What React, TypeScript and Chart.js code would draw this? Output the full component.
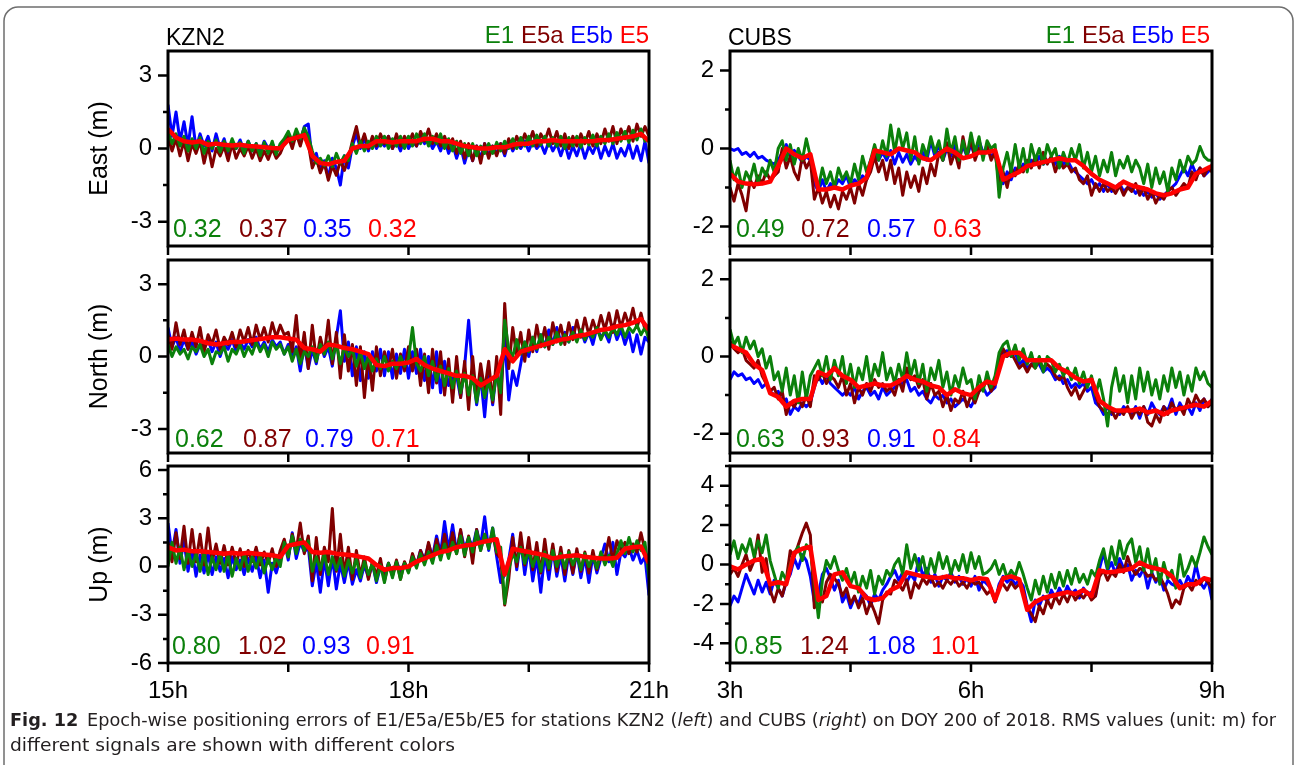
import React, { useEffect, useRef } from 'react';
import { Chart, registerables } from 'chart.js';

Chart.register(...registerables);

const FONT = "'Liberation Sans', Arial, Helvetica, sans-serif";
const NARROW = "'Liberation Sans Narrow', 'DejaVu Sans Condensed', 'Liberation Sans', sans-serif";
const GREEN = '#0b800b';
const DARKRED = '#800000';
const BLUE = '#0000ff';
const RED = '#ff0000';

// ---------- time axes (hours) ----------
const kznHours = [15, 18, 21];
const kznMinorHours = [16.5, 19.5];
const cubsHours = [3, 6, 9];
const cubsMinorHours = [4.5, 7.5];

// ---------- KZN2 East (noisy series: 121 epochs, E5: 61 epochs) ----------
const kznEastE1 = [
  0.7,0.2,0.6,0.1,0.5,-0.1,0.4,0.0,0.45,-0.2,0.3,0.0,0.35,-0.15,0.3,-0.1,0.4,0.0,0.25,-0.2,
  0.3,-0.1,0.2,-0.3,0.25,-0.2,0.3,-0.25,0.2,0.4,0.7,0.3,0.8,0.4,0.85,0.5,-0.1,-0.6,-0.4,-0.7,
  -0.3,-0.75,-0.2,-0.6,-0.3,-0.5,0.2,-0.2,0.3,-0.1,0.3,0.0,0.5,0.1,0.5,0.0,0.4,0.1,0.5,0.0,
  0.5,0.1,0.6,0.2,0.6,0.1,0.5,0.2,0.6,0.0,0.4,-0.1,0.3,-0.2,0.2,-0.3,0.2,-0.3,0.1,-0.2,
  0.2,-0.2,0.25,-0.1,0.3,0.0,0.4,0.0,0.45,0.1,0.5,0.1,0.55,0.15,0.5,0.1,0.45,0.1,0.5,0.0,
  0.45,0.1,0.5,0.05,0.45,0.15,0.55,0.1,0.5,0.2,0.6,0.2,0.65,0.3,0.7,0.25,0.75,0.35,0.8,0.3,
  0.4];
const kznEastE5a = [
  0.5,-0.1,0.4,-0.3,0.3,-0.5,0.2,-0.2,0.3,-0.6,0.1,-0.75,0.0,-0.3,0.1,-0.5,0.2,-0.4,0.0,-0.3,
  0.1,-0.4,0.0,-0.5,-0.1,-0.45,0.0,-0.4,-0.2,0.2,0.5,0.0,0.6,0.1,0.7,0.2,-0.8,-0.4,-1.0,-0.6,
  -1.3,-0.7,-1.1,-0.5,-0.9,-0.4,0.3,0.9,0.1,0.6,0.0,0.5,0.1,0.6,0.2,0.5,0.0,0.6,0.1,0.5,
  0.2,0.6,0.1,0.7,0.3,0.8,0.2,0.6,0.1,0.5,0.0,0.4,-0.2,0.3,-0.4,0.2,-0.5,0.1,-0.6,0.2,
  -0.4,0.1,-0.3,0.2,-0.2,0.4,0.0,0.5,0.1,0.6,0.2,0.7,0.1,0.6,0.3,0.8,0.2,0.7,0.1,0.6,
  0.0,0.5,0.1,0.6,0.2,0.7,0.1,0.6,0.2,0.8,0.3,0.9,0.2,0.8,0.4,0.9,0.3,1.0,0.5,0.9,
  0.5];
const kznEastE5b = [
  1.8,0.5,1.5,0.3,1.1,0.1,1.3,0.0,0.6,0.1,0.5,-0.1,0.6,0.0,0.4,-0.2,0.3,0.0,0.35,-0.1,
  0.3,-0.1,0.2,-0.2,0.3,0.0,0.2,-0.1,0.1,0.3,0.5,0.2,0.7,0.3,0.9,1.0,-0.5,-0.2,-0.9,-0.5,
  -1.2,-0.4,-0.8,-1.5,-0.3,-0.8,0.1,0.6,0.0,0.4,-0.1,0.4,0.0,0.3,0.1,0.5,0.0,0.3,-0.1,0.4,
  0.0,0.3,0.1,0.5,0.2,0.4,0.0,0.3,-0.1,0.4,-0.2,0.2,-0.4,0.1,-0.6,0.0,-0.5,0.1,-0.4,0.2,
  -0.3,0.1,-0.2,0.2,-0.3,0.3,-0.1,0.2,0.0,0.3,-0.1,0.3,0.0,0.2,-0.2,0.3,-0.1,0.2,-0.3,0.2,
  -0.4,0.1,-0.3,0.2,-0.4,0.1,-0.2,0.2,-0.4,0.1,-0.3,0.2,-0.4,0.0,-0.3,0.2,-0.4,0.1,-0.5,0.3,
  -0.6];
const kznEastE5 = [
  0.8,0.45,0.3,0.25,0.3,0.15,0.2,0.15,0.12,0.15,
  0.1,0.08,0.05,0.02,0.0,0.35,0.45,0.55,-0.3,-0.6,
  -0.65,-0.55,-0.5,0.0,0.1,0.1,0.3,0.3,0.25,0.3,
  0.3,0.3,0.4,0.4,0.3,0.3,0.2,0.1,0.05,0.0,
  0.0,0.05,0.05,0.15,0.2,0.2,0.3,0.3,0.35,0.3,
  0.3,0.3,0.3,0.3,0.35,0.35,0.4,0.45,0.5,0.6,
  0.3];
const kznEastRms = ['0.32', '0.37', '0.35', '0.32'];

// ---------- KZN2 North ----------
const kznNorthE1 = [
  0.5,0.0,0.4,0.1,0.3,-0.1,0.4,0.2,0.5,0.0,0.3,-0.3,0.2,0.1,0.4,-0.2,0.3,0.1,0.5,0.0,
  0.4,0.1,0.6,0.2,0.5,0.0,0.6,0.3,0.5,0.1,0.4,-0.2,0.3,-0.3,0.2,0.0,0.4,-0.2,0.5,0.1,
  0.6,-0.1,0.5,-0.3,0.4,0.0,0.3,-0.4,0.2,-0.5,0.0,-0.6,-0.1,-0.5,0.0,-0.6,-0.2,-0.5,0.0,-0.4,
  -0.1,1.2,-0.3,-0.6,0.0,-0.8,-0.2,-1.0,-0.4,-1.2,-0.5,-1.3,-0.6,-1.5,-0.7,-1.6,-0.8,-1.9,-0.9,-1.7,
  -1.0,-1.8,-0.7,-1.5,1.5,0.3,0.0,0.7,0.1,0.6,0.2,0.8,0.3,0.9,0.4,0.8,0.5,1.0,0.5,0.9,
  0.6,1.0,0.6,1.1,0.7,1.0,0.8,1.2,0.7,1.1,0.8,1.2,0.9,1.3,0.8,1.2,1.0,1.3,0.9,1.2,
  0.7];
const kznNorthE5a = [
  0.9,0.3,1.4,0.5,1.1,0.3,1.0,0.4,1.2,0.2,0.9,0.5,1.1,0.3,0.8,0.5,1.0,0.4,1.1,0.6,
  1.2,0.5,1.3,0.7,1.2,0.6,1.4,0.8,1.3,0.9,1.0,0.2,1.7,-0.2,1.0,-0.5,1.3,-0.2,0.8,0.1,
  1.5,-0.3,1.0,-0.9,0.9,-0.6,0.5,-1.2,0.4,-1.7,0.1,-1.4,0.4,-0.8,0.2,-0.5,0.3,-0.9,0.1,-0.6,
  0.4,-0.6,0.3,-1.2,0.1,-1.5,0.3,-1.1,0.2,-1.6,-0.1,-1.9,0.0,-1.7,-0.2,-2.2,0.0,-1.8,-0.3,-1.4,
  -0.2,-1.9,0.0,-2.4,2.2,-0.5,1.2,0.0,1.0,-0.2,1.1,0.2,1.3,0.4,1.2,0.3,1.4,0.6,1.3,0.5,
  1.4,0.7,1.5,0.8,1.6,0.9,1.5,1.0,1.7,1.1,1.8,1.0,1.9,1.2,1.8,1.3,2.0,1.2,1.8,1.1,
  1.3];
const kznNorthE5b = [
  1.2,0.4,0.8,0.2,0.7,0.3,0.6,0.1,0.5,0.3,0.7,0.2,0.6,0.0,0.5,0.3,0.7,0.2,0.6,0.3,
  0.7,0.4,0.8,0.3,0.6,0.2,0.7,0.4,0.6,0.1,0.5,0.0,0.4,-0.6,0.5,-0.5,0.3,-0.3,0.6,0.0,
  0.4,-0.4,0.8,1.9,-0.2,0.6,-0.8,0.4,-1.0,0.2,-0.9,0.2,-0.6,0.3,-0.8,0.2,-0.9,0.1,-0.7,0.3,
  -0.9,0.2,-0.7,0.3,-1.0,0.0,-1.3,0.2,-1.5,-0.2,-1.2,-0.9,-0.8,-1.7,-0.4,1.5,-0.6,-2.0,-0.8,-2.5,
  -0.6,-2.0,-0.5,-1.6,0.8,-1.8,-0.6,-1.2,-0.3,0.6,0.0,0.8,0.2,0.9,0.4,1.1,0.5,1.2,0.6,1.0,
  0.6,1.2,0.7,1.1,0.6,1.0,0.5,1.2,0.8,1.0,0.6,1.3,0.7,1.1,0.5,1.0,0.2,0.9,0.1,0.8,
  0.6];
const kznNorthE5 = [
  0.7,0.75,0.7,0.7,0.65,0.55,0.5,0.55,0.6,0.6,
  0.65,0.7,0.75,0.8,0.8,0.75,0.7,0.35,0.3,0.2,
  0.5,0.45,0.35,0.3,0.2,0.1,-0.35,-0.4,-0.3,-0.3,
  -0.25,-0.1,-0.35,-0.5,-0.6,-0.7,-0.8,-0.8,-0.9,-1.2,
  -1.0,-0.8,0.3,-0.2,0.2,0.3,0.4,0.5,0.6,0.7,
  0.75,0.85,0.9,1.0,1.1,1.15,1.25,1.3,1.4,1.55,
  1.1];
const kznNorthRms = ['0.62', '0.87', '0.79', '0.71'];

// ---------- KZN2 Up ----------
const kznUpE1 = [
  0.0,1.5,0.2,1.2,-0.2,1.0,0.0,0.8,-0.3,0.9,-0.5,0.6,-0.2,0.8,-0.3,0.7,-0.6,0.5,-0.2,0.8,
  -0.3,0.6,-0.1,0.7,-0.4,0.5,-0.2,0.6,0.0,1.5,0.6,1.9,0.8,1.7,1.0,1.6,-0.3,0.6,-0.2,0.8,
  -0.5,0.6,-0.2,0.5,-0.6,0.4,-0.4,0.5,-0.7,0.3,-0.5,0.2,-0.9,0.1,-1.0,0.2,-0.7,0.3,-0.8,0.2,
  -0.4,0.6,-0.1,0.8,0.1,0.9,0.2,1.3,0.4,1.4,0.5,1.5,0.8,1.9,0.7,1.8,0.9,2.2,1.0,2.0,
  1.1,2.4,0.9,1.2,-2.3,-0.2,0.8,0.3,1.2,0.2,1.0,0.0,0.8,-0.3,0.9,-0.1,1.0,0.0,0.8,-0.1,
  0.9,0.1,0.7,-0.2,0.8,0.0,0.6,-0.1,0.9,0.1,0.7,0.0,0.8,1.6,0.8,1.8,0.9,1.6,1.0,1.5,
  -0.7];
const kznUpE5a = [
  1.5,0.3,2.1,0.5,2.5,0.2,2.3,0.3,2.0,0.1,2.4,0.3,1.4,0.2,1.3,0.1,1.2,0.2,1.1,0.0,
  1.0,0.3,1.2,0.1,0.9,0.2,1.1,0.0,1.0,1.7,0.6,2.0,1.0,2.7,0.8,1.9,-0.9,1.8,-0.5,1.2,
  0.3,3.6,-0.3,2.0,-0.5,1.2,-0.8,1.0,-0.6,0.6,-0.8,0.3,-0.6,0.5,-0.9,0.2,-0.6,0.4,-0.8,0.3,
  -0.3,0.8,0.0,1.0,0.3,1.5,0.4,1.7,0.6,2.0,0.7,2.1,0.8,2.3,0.6,1.9,0.2,2.3,1.0,2.0,
  1.2,2.1,0.8,0.5,-2.4,-0.8,1.8,0.0,2.1,0.1,1.8,-0.2,1.5,-0.4,1.7,-0.2,1.4,-0.3,1.2,-0.5,
  1.0,-0.4,1.1,-0.3,0.9,-0.4,1.0,-0.2,0.8,0.5,1.8,0.3,1.6,1.0,1.5,0.8,1.4,0.9,2.1,1.0,
  -0.2];
const kznUpE5b = [
  2.7,0.8,2.3,0.2,1.6,-0.3,1.0,-0.6,0.7,-0.4,0.8,-0.5,0.6,-0.3,0.5,-0.7,0.6,-0.2,0.4,-0.5,
  0.5,-0.3,0.6,-0.7,0.4,-1.6,0.2,-0.4,0.5,1.6,0.4,2.1,0.5,1.5,0.9,1.2,-1.2,0.3,-1.6,0.5,
  -1.2,0.6,-1.4,0.2,-1.0,0.3,-1.1,-0.2,-0.9,0.1,-0.7,0.2,-1.0,0.0,-0.6,0.2,-0.5,0.3,-0.3,0.2,
  -0.3,0.7,0.1,1.0,0.4,1.4,0.6,1.9,0.8,2.8,1.0,2.6,0.9,2.2,1.1,1.8,1.2,2.3,1.3,3.1,
  1.0,2.4,0.6,-1.0,-0.5,0.4,2.0,-0.2,1.6,-0.5,1.2,-0.9,0.6,-1.6,0.8,-0.8,1.1,-0.6,0.7,-0.9,
  0.8,-0.5,0.9,-0.7,0.6,-1.0,0.7,-0.4,0.5,1.4,0.3,1.5,-0.5,0.9,0.6,1.2,0.4,1.0,0.2,0.6,
  -1.8];
const kznUpE5 = [
  1.2,1.0,1.05,0.95,0.95,0.9,0.85,0.8,0.85,0.8,
  0.85,0.8,0.75,0.7,0.6,1.3,1.4,1.5,0.9,0.85,
  0.9,0.8,0.75,0.7,0.6,0.5,0.1,-0.2,-0.1,-0.1,
  0.0,0.3,0.5,0.7,0.9,1.0,1.2,1.3,1.35,1.5,
  1.6,1.7,-0.5,1.1,1.0,0.9,0.8,0.7,0.5,0.6,
  0.65,0.7,0.6,0.55,0.5,0.5,0.55,1.1,1.2,1.25,
  0.2];
const kznUpRms = ['0.80', '1.02', '0.93', '0.91'];

// ---------- CUBS East ----------
const cubsEastE1 = [
  -0.3,-0.8,-0.5,-1.0,-0.6,-0.8,-0.4,-0.9,-0.5,-0.7,-0.3,-0.6,0.0,0.2,-0.3,0.1,-0.4,0.0,-0.3,0.25,
  -0.2,-0.6,-1.0,-0.5,-0.9,-0.6,-1.0,-0.5,-0.8,-0.6,-0.9,-0.4,-0.8,-0.2,-0.6,-0.3,0.1,-0.3,0.2,-0.2,
  0.6,-0.1,0.5,0.0,0.4,-0.3,0.3,-0.4,0.1,-0.2,0.3,-0.1,0.2,-0.3,0.5,-0.1,0.3,-0.3,0.2,-0.2,
  0.4,-0.1,0.3,-0.3,0.2,0.0,0.1,-1.25,-0.5,-0.1,-0.6,0.1,-0.5,0.0,-0.6,0.1,-0.3,0.0,-0.4,0.1,
  -0.2,0.0,-0.5,-0.1,-0.4,0.0,-0.3,0.1,-0.5,-0.1,-0.6,-0.2,-0.7,-0.3,-0.6,-0.1,-0.7,-0.3,-0.5,-0.2,
  -0.6,-0.3,-0.5,-0.9,-0.4,-1.0,-0.5,-0.9,-0.6,-1.1,-0.5,-0.8,-0.3,-0.6,-0.2,-0.4,-0.3,0.05,-0.2,-0.3,
  -0.3];
const cubsEastE5a = [
  -1.0,-1.35,-0.9,-1.2,-1.6,-0.8,-1.0,-0.7,-0.9,-0.6,-0.8,-0.7,-0.6,0.0,-0.5,-0.2,-0.6,-0.8,-0.2,-0.5,
  -0.3,-1.3,-1.0,-1.4,-1.1,-1.5,-1.2,-1.55,-1.1,-1.3,-1.0,-1.4,-0.9,-1.2,-0.8,-0.6,-0.2,-0.6,-0.3,-0.8,
  -0.3,-0.9,-0.5,-1.2,-0.6,-1.0,-0.7,-1.1,-0.5,-0.9,-0.4,-0.7,-0.1,-0.3,0.15,-0.4,-0.1,-0.5,0.3,-0.2,
  0.25,-0.3,0.0,-0.2,0.1,-0.3,-0.1,-0.9,-0.6,-1.0,-0.5,-0.7,-0.4,-0.6,-0.3,-0.5,-0.2,-0.5,-0.1,-0.4,
  -0.2,-0.6,-0.3,-0.5,-0.4,-0.6,-0.5,-0.8,-0.9,-0.7,-1.2,-0.9,-1.1,-0.9,-1.1,-1.0,-1.15,-0.95,-1.2,-1.0,
  -1.1,-0.9,-1.2,-1.0,-1.3,-1.1,-1.4,-1.2,-1.3,-1.1,-1.0,-1.2,-1.05,-0.9,-1.0,-0.6,-0.8,-0.5,-0.7,-0.5,
  -0.6];
const cubsEastE5b = [
  0.0,-0.05,0.0,-0.15,-0.1,-0.2,-0.1,-0.25,-0.2,-0.3,-0.35,-0.4,-0.3,-0.1,0.1,-0.2,-0.05,-0.2,-0.35,-0.2,
  -0.3,-0.9,-1.1,-0.8,-1.1,-0.9,-1.0,-0.8,-0.9,-0.7,-1.0,-0.8,-0.9,-0.7,-0.8,-0.3,-0.15,-0.3,-0.1,-0.3,
  -0.05,-0.4,-0.1,-0.35,-0.15,-0.4,-0.2,-0.35,-0.1,-0.3,0.2,-0.2,0.1,-0.3,0.0,-0.2,0.1,-0.25,0.05,-0.2,
  0.1,-0.2,0.2,-0.1,0.0,-0.2,-0.1,-0.7,-0.9,-0.6,-0.8,-0.5,-0.6,-0.4,-0.5,-0.3,-0.4,-0.2,-0.4,-0.3,
  -0.3,-0.4,-0.2,-0.4,-0.3,-0.5,-0.6,-0.7,-0.8,-0.9,-0.8,-1.0,-0.9,-1.1,-0.9,-1.1,-1.0,-0.9,-1.1,-1.0,
  -1.0,-1.15,-1.05,-1.2,-1.1,-1.25,-1.15,-1.3,-1.2,-1.1,-1.0,-0.9,-0.7,-0.5,-0.7,-0.4,-0.65,-0.5,-0.7,-0.6,
  -0.5];
const cubsEastE5 = [
  -0.65,-0.85,-0.9,-0.92,-0.9,-0.85,-0.45,0.0,-0.15,-0.25,
  -0.15,-1.05,-1.05,-1.0,-1.05,-0.95,-0.9,-0.75,-0.05,-0.1,
  -0.15,0.0,-0.05,-0.1,-0.25,-0.3,-0.15,0.0,-0.1,-0.25,
  -0.2,-0.1,-0.1,-0.05,-0.8,-0.7,-0.6,-0.45,-0.4,-0.35,
  -0.3,-0.25,-0.3,-0.3,-0.45,-0.65,-0.8,-0.9,-1.0,-0.85,
  -0.95,-1.0,-1.05,-1.15,-1.2,-1.15,-1.05,-1.0,-0.65,-0.55,
  -0.45];
const cubsEastRms = ['0.49', '0.72', '0.57', '0.63'];

// ---------- CUBS North ----------
const cubsNorthE1 = [
  0.7,0.3,0.5,0.1,0.5,0.2,0.4,0.0,0.2,-0.3,0.0,-0.6,-0.4,-0.9,-0.3,-1.0,-0.5,-1.2,-0.4,-1.1,
  -0.5,-0.3,-0.1,-0.5,0.0,-0.6,-0.1,-0.5,0.0,-0.7,-0.2,-0.8,-0.3,-0.6,0.0,-0.7,-0.2,-0.5,0.1,-0.6,
  -0.3,-0.7,-0.2,-0.6,0.1,-0.5,-0.1,-0.7,-0.2,-0.9,-0.3,-0.6,-0.1,-0.8,-0.4,-1.0,-0.5,-0.8,-0.3,-0.7,
  -0.6,-1.1,-0.5,-0.9,-0.4,-0.8,-0.5,0.1,0.3,0.4,0.0,0.3,-0.1,0.2,-0.2,0.1,-0.3,0.0,-0.4,0.0,
  -0.1,-0.4,-0.2,-0.5,-0.3,-0.6,-0.3,-0.7,-0.4,-0.8,-0.5,-1.0,-0.6,-1.1,-1.8,-0.8,-0.3,-0.9,-0.5,-1.2,
  -0.5,-1.1,-0.3,-0.9,-0.4,-1.0,-0.6,-1.1,-0.5,-0.9,-0.3,-0.8,-0.4,-1.0,-0.5,-0.9,-0.3,-0.6,-0.4,-0.7,
  -0.8];
const cubsNorthE5a = [
  0.4,0.2,0.1,0.2,-0.1,-0.2,-0.3,-0.1,-0.5,-0.7,-0.9,-0.8,-1.1,-0.9,-1.5,-1.2,-1.3,-1.1,-1.3,-1.0,
  -1.3,-0.5,-0.6,-0.4,-0.7,-0.5,-0.6,-0.8,-0.5,-1.0,-0.7,-1.2,-0.8,-1.0,-0.7,-0.9,-0.6,-0.8,-0.7,-0.9,
  -0.8,-1.0,-0.6,-0.9,-0.3,-0.6,-0.5,-0.8,-0.6,-1.1,-0.7,-1.0,-0.9,-1.3,-1.0,-1.4,-1.1,-1.2,-0.9,-1.3,
  -1.0,-1.2,-0.9,-0.8,-0.6,-0.9,-0.7,-0.1,0.2,0.0,0.1,-0.1,-0.3,-0.2,-0.4,-0.2,-0.3,-0.1,-0.3,-0.2,
  -0.3,-0.5,-0.6,-0.5,-0.8,-1.0,-0.8,-1.1,-0.9,-0.7,-0.6,-1.0,-1.3,-1.4,-1.5,-1.4,-1.6,-1.4,-1.5,-1.3,
  -1.6,-1.4,-1.5,-1.3,-1.7,-1.8,-1.5,-1.7,-1.3,-1.5,-1.2,-1.4,-1.3,-1.5,-1.1,-1.3,-1.0,-1.2,-1.1,-1.3,
  -1.2];
const cubsNorthE5b = [
  -0.6,-0.4,-0.5,-0.45,-0.6,-0.55,-0.7,-0.6,-0.8,-0.7,-0.9,-1.0,-0.9,-1.2,-1.1,-1.5,-1.3,-1.4,-1.2,-1.3,
  -1.2,-0.8,-0.5,-0.7,-0.5,-0.7,-0.8,-0.9,-1.0,-0.9,-1.0,-0.8,-1.1,-0.9,-0.8,-1.0,-0.9,-1.1,-0.8,-1.0,
  -0.9,-0.8,-0.6,-0.7,-0.6,-0.9,-0.8,-1.0,-0.9,-1.1,-1.2,-1.0,-1.1,-1.0,-1.2,-1.1,-1.3,-1.2,-1.1,-1.2,
  -1.3,-1.1,-0.9,-0.8,-1.0,-0.9,-0.8,0.0,0.1,0.15,0.0,0.1,-0.2,-0.1,-0.3,-0.2,-0.1,-0.2,-0.4,-0.3,
  -0.4,-0.6,-0.5,-0.7,-0.6,-0.8,-0.7,-0.8,-0.7,-0.9,-0.8,-1.2,-1.3,-1.5,-1.3,-1.5,-1.4,-1.5,-1.3,-1.4,
  -1.5,-1.3,-1.6,-1.3,-1.5,-1.2,-1.4,-1.5,-1.3,-1.4,-1.1,-1.5,-1.2,-1.4,-1.3,-1.5,-1.2,-1.4,-1.1,-1.3,
  -1.1];
const cubsNorthE5 = [
  0.3,0.2,0.1,-0.2,-0.35,-0.95,-1.05,-1.3,-1.15,-1.1,
  -1.1,-0.4,-0.5,-0.3,-0.5,-0.6,-0.8,-0.75,-0.7,-0.75,
  -0.75,-0.65,-0.5,-0.6,-0.65,-0.75,-0.8,-1.0,-0.85,-0.95,
  -1.0,-0.8,-0.65,-0.7,0.0,0.1,0.1,-0.1,-0.1,-0.1,
  -0.1,-0.3,-0.4,-0.55,-0.65,-0.6,-1.15,-1.3,-1.4,-1.4,
  -1.4,-1.35,-1.45,-1.4,-1.5,-1.4,-1.35,-1.3,-1.25,-1.3,
  -1.15];
const cubsNorthRms = ['0.63', '0.93', '0.91', '0.84'];

// ---------- CUBS Up ----------
const cubsUpE1 = [
  0.5,1.2,0.3,1.0,0.6,1.3,0.4,1.2,0.6,1.5,0.2,-0.5,-1.2,-0.4,-0.8,0.0,0.6,0.9,0.2,1.0,
  0.7,-0.8,-2.7,-0.8,0.2,-0.2,0.4,-0.3,-0.8,-0.2,-1.0,-0.4,-1.4,-0.6,-1.2,-0.3,-1.5,-0.6,-1.0,-0.3,
  -0.6,0.0,0.3,-0.5,1.0,-0.2,0.5,-0.3,0.4,-0.6,0.3,-0.4,0.6,-0.2,0.4,-0.5,0.2,-0.3,0.5,-0.4,
  0.6,-0.2,0.4,-0.5,-0.4,-0.2,0.2,-0.5,0.0,-0.7,-0.3,-0.6,0.1,-0.5,-1.2,-1.8,-0.8,-1.5,-0.6,-1.4,
  -0.5,-1.2,-0.4,-1.1,-0.3,-1.0,-0.2,-0.9,-0.5,-1.0,-0.3,-0.6,0.2,0.8,-0.2,0.9,0.0,1.2,0.3,1.0,
  1.3,0.1,0.9,-0.3,0.8,-0.4,0.3,-1.0,0.1,-0.7,-0.3,-1.2,0.5,-0.6,-0.2,0.4,-0.1,0.6,1.4,0.9,
  0.5];
const cubsUpE5a = [
  -0.5,-0.2,-0.6,0.0,0.5,-0.3,0.2,1.5,-0.4,0.3,-1.3,-1.9,-1.2,-1.6,-0.8,0.7,0.4,1.0,1.6,2.1,
  1.5,-2.2,-1.7,-1.9,-0.9,-0.5,-0.7,-1.0,-1.6,-1.2,-2.0,-1.6,-2.2,-1.7,-2.5,-1.9,-2.4,-3.0,-1.8,-1.4,
  -1.5,-0.8,-1.0,-1.3,-0.8,-1.7,-0.9,-1.2,-0.7,-1.0,-0.6,-1.1,-0.9,-1.2,-0.8,-1.0,-0.7,-1.1,-0.9,-1.2,
  -0.8,-1.0,-0.9,-1.2,-1.5,-1.3,-1.9,-1.1,-1.0,-1.3,-0.9,-1.2,-1.0,-1.3,-2.2,-2.5,-2.9,-2.1,-2.5,-1.8,
  -2.2,-1.6,-2.0,-1.5,-1.9,-1.4,-1.8,-1.5,-1.7,-1.4,-1.8,-1.6,-0.6,-0.3,-0.8,-0.4,-0.6,0.0,-0.4,0.4,
  -0.2,-0.5,-0.2,-0.3,-0.6,-0.5,-0.8,-0.6,-1.0,-1.5,-2.2,-1.8,-2.0,-1.2,-1.0,-1.3,-0.8,-1.0,-0.7,-0.9,
  -1.2];
const cubsUpE5b = [
  -2.1,-1.6,-1.9,-1.2,-0.5,-1.0,-1.5,-0.8,-1.4,-0.9,-1.5,-0.8,-1.2,-1.6,-0.9,-0.5,0.3,-0.2,0.5,0.2,
  -0.6,-1.9,-1.5,-0.5,-0.2,-0.7,-1.3,-0.8,-1.9,-1.5,-2.2,-1.7,-2.0,-1.4,-1.6,-2.1,-1.5,-1.8,-1.3,-1.0,
  -0.6,-0.3,-0.8,-0.4,-0.9,-0.5,-0.8,0.3,-0.6,-0.2,-0.9,-0.5,-1.1,-0.6,-0.8,-0.4,-0.9,-0.6,-1.0,-0.7,
  -1.1,-0.6,-1.3,-0.8,-1.0,-1.2,-1.9,-1.0,-0.6,-0.9,-0.7,-1.0,-0.8,-1.1,-2.1,-2.9,-1.8,-2.1,-1.6,-1.9,
  -1.3,-1.7,-1.2,-1.6,-1.1,-1.5,-1.3,-1.7,-1.2,-1.5,-1.4,-1.6,-0.2,0.6,-0.3,0.1,-0.5,0.3,-0.2,0.0,
  -0.8,-0.3,-0.6,-0.2,-1.2,-0.4,-0.9,-0.5,-1.3,-0.8,-1.0,-1.1,-0.8,-1.2,-0.6,-1.0,0.0,-0.9,-1.2,-0.8,
  -1.8];
const cubsUpE5 = [
  -0.1,-0.25,0.0,0.2,0.3,-1.0,-0.9,-1.0,0.6,0.8,
  0.9,-1.8,-1.6,-0.5,-0.4,-1.1,-1.2,-1.7,-1.8,-1.7,
  -1.3,-1.1,-0.4,-0.5,-0.6,-0.65,-0.7,-0.6,-0.7,-0.7,
  -0.8,-0.7,-0.75,-1.8,-0.7,-0.6,-0.75,-2.3,-1.9,-1.7,
  -1.6,-1.5,-1.4,-1.5,-1.3,-1.6,-0.3,-0.4,-0.35,-0.3,
  -0.2,0.1,-0.1,-0.2,-0.3,-0.6,-1.2,-1.0,-1.0,-0.7,
  -0.8];
const cubsUpRms = ['0.85', '1.24', '1.08', '1.01'];

type PanelCfg = {
  left: number; top: number; boxW: number; boxH: number;
  hours: number[]; minorHours: number[];
  yMin: number; yMax: number; yMajor: number[]; yMinor: number[];
  yTitle: string; showX: boolean;
  e1: number[]; e5a: number[]; e5b: number[]; e5: number[];
};

const AXIS_W = 90;
const PAD_TOP = 10;
const PAD_RIGHT = 30;

function PanelChart({ cfg }: { cfg: PanelCfg }) {
  const ref = useRef<HTMLCanvasElement | null>(null);
  const xAxisH = cfg.showX ? 50 : 15;
  const cw = cfg.boxW + AXIS_W + PAD_RIGHT;
  const ch = cfg.boxH + PAD_TOP + xAxisH;

  useEffect(() => {
    if (!ref.current) return;
    const x0 = cfg.hours[0];
    const span = cfg.hours[cfg.hours.length - 1] - x0;
    const series = (arr: number[], color: string, width: number) => ({
      data: arr.map((y, i) => ({ x: x0 + (i * span) / (arr.length - 1), y })),
      borderColor: color,
      borderWidth: width,
      pointRadius: 0,
      tension: 0,
      fill: false,
      borderJoinStyle: 'round' as const,
    });
    const zeroPad = (s: any) => {
      s.paddingLeft = 0; s.paddingRight = 0; s.paddingTop = 0; s.paddingBottom = 0;
    };
    const frame = {
      id: 'frame',
      afterDatasetsDraw(chart: any) {
        const { ctx, chartArea: a, scales } = chart;
        ctx.save();
        ctx.strokeStyle = '#000';
        ctx.lineWidth = 3;
        ctx.strokeRect(a.left, a.top, a.right - a.left, a.bottom - a.top);
        ctx.lineWidth = 2.5;
        ctx.beginPath();
        for (const v of cfg.yMajor) {
          const y = scales.y.getPixelForValue(v);
          ctx.moveTo(a.left, y); ctx.lineTo(a.left - 10, y);
        }
        for (const v of cfg.yMinor) {
          const y = scales.y.getPixelForValue(v);
          ctx.moveTo(a.left, y); ctx.lineTo(a.left - 5, y);
        }
        for (const v of [...cfg.hours, ...cfg.minorHours]) {
          const x = scales.x.getPixelForValue(v);
          ctx.moveTo(x, a.bottom); ctx.lineTo(x, a.bottom + 9);
        }
        ctx.stroke();
        ctx.restore();
      },
    };
    const chart = new Chart(ref.current, {
      type: 'line',
      data: {
        datasets: [
          series(cfg.e5, RED, 4.5),
          series(cfg.e1, GREEN, 3),
          series(cfg.e5a, DARKRED, 3),
          series(cfg.e5b, BLUE, 3),
        ],
      },
      options: {
        animation: false,
        responsive: false,
        devicePixelRatio: 1,
        layout: { padding: { left: 0, top: PAD_TOP, right: PAD_RIGHT, bottom: 0 } },
        plugins: { legend: { display: false }, tooltip: { enabled: false } },
        events: [],
        scales: {
          x: {
            type: 'linear',
            min: x0,
            max: x0 + span,
            grid: { display: false, drawTicks: false },
            border: { display: false },
            afterBuildTicks: (s: any) => { s.ticks = cfg.hours.map((v) => ({ value: v })); },
            afterFit: (s: any) => { s.height = xAxisH; zeroPad(s); },
            ticks: {
              display: cfg.showX,
              padding: 14,
              autoSkip: false,
              maxRotation: 0,
              color: '#000',
              font: { family: FONT, size: 24 },
              callback: (v: any) => `${v}h`,
            },
          },
          y: {
            type: 'linear',
            min: cfg.yMin,
            max: cfg.yMax,
            grid: { display: false, drawTicks: false },
            border: { display: false },
            afterBuildTicks: (s: any) => { s.ticks = cfg.yMajor.map((v) => ({ value: v })); },
            afterFit: (s: any) => { s.width = AXIS_W; zeroPad(s); },
            ticks: {
              padding: 16,
              color: '#000',
              font: { family: FONT, size: 24 },
              callback: (v: any) => String(v),
            },
            title: {
              display: cfg.yTitle !== '',
              text: cfg.yTitle,
              color: '#000',
              font: { family: FONT, size: 25 },
              padding: { top: 7, bottom: 0 },
            },
          },
        },
      },
      plugins: [frame],
    } as any);
    return () => chart.destroy();
  }, []);

  return (
    <canvas
      ref={ref}
      width={cw}
      height={ch}
      style={{ position: 'absolute', left: cfg.left - AXIS_W, top: cfg.top - PAD_TOP, width: cw, height: ch }}
    />
  );
}

const LEFT_X = 168;
const RIGHT_X = 730;
const LEFT_W = 481;
const RIGHT_W = 482;

const panels: PanelCfg[] = [
  { left: LEFT_X, top: 51, boxW: LEFT_W, boxH: 195, hours: kznHours, minorHours: kznMinorHours,
    yMin: -4, yMax: 4, yMajor: [-3, 0, 3], yMinor: [-1.5, 1.5], yTitle: 'East (m)', showX: false,
    e1: kznEastE1, e5a: kznEastE5a, e5b: kznEastE5b, e5: kznEastE5 },
  { left: LEFT_X, top: 260, boxW: LEFT_W, boxH: 193, hours: kznHours, minorHours: kznMinorHours,
    yMin: -4, yMax: 4, yMajor: [-3, 0, 3], yMinor: [-1.5, 1.5], yTitle: 'North (m)', showX: false,
    e1: kznNorthE1, e5a: kznNorthE5a, e5b: kznNorthE5b, e5: kznNorthE5 },
  { left: LEFT_X, top: 466, boxW: LEFT_W, boxH: 197, hours: kznHours, minorHours: kznMinorHours,
    yMin: -6, yMax: 6.25, yMajor: [-6, -3, 0, 3, 6], yMinor: [-4.5, -1.5, 1.5, 4.5], yTitle: 'Up (m)', showX: true,
    e1: kznUpE1, e5a: kznUpE5a, e5b: kznUpE5b, e5: kznUpE5 },
  { left: RIGHT_X, top: 51, boxW: RIGHT_W, boxH: 195, hours: cubsHours, minorHours: cubsMinorHours,
    yMin: -2.5, yMax: 2.5, yMajor: [-2, 0, 2], yMinor: [-1, 1], yTitle: '', showX: false,
    e1: cubsEastE1, e5a: cubsEastE5a, e5b: cubsEastE5b, e5: cubsEastE5 },
  { left: RIGHT_X, top: 260, boxW: RIGHT_W, boxH: 193, hours: cubsHours, minorHours: cubsMinorHours,
    yMin: -2.5, yMax: 2.5, yMajor: [-2, 0, 2], yMinor: [-1, 1], yTitle: '', showX: false,
    e1: cubsNorthE1, e5a: cubsNorthE5a, e5b: cubsNorthE5b, e5: cubsNorthE5 },
  { left: RIGHT_X, top: 466, boxW: RIGHT_W, boxH: 197, hours: cubsHours, minorHours: cubsMinorHours,
    yMin: -5, yMax: 5, yMajor: [-4, -2, 0, 2, 4], yMinor: [-5, -3, -1, 1, 3, 5], yTitle: '', showX: true,
    e1: cubsUpE1, e5a: cubsUpE5a, e5b: cubsUpE5b, e5: cubsUpE5 },
];

const rmsBlocks = [
  { vals: kznEastRms, xs: [173, 239, 303, 368], y: 237 },
  { vals: kznNorthRms, xs: [175, 243, 305, 371], y: 447 },
  { vals: kznUpRms, xs: [172, 238, 302, 366], y: 654 },
  { vals: cubsEastRms, xs: [736, 801, 867, 933], y: 237 },
  { vals: cubsNorthRms, xs: [736, 801, 867, 932], y: 447 },
  { vals: cubsUpRms, xs: [734, 800, 867, 931], y: 654 },
];
const rmsColors = [GREEN, DARKRED, BLUE, RED];

function Legend({ x }: { x: number }) {
  return (
    <text x={x} y={43} textAnchor="end" fontFamily={FONT} fontSize={24}>
      <tspan fill={GREEN}>E1</tspan>
      <tspan fill={DARKRED}>{' E5a'}</tspan>
      <tspan fill={BLUE}>{' E5b'}</tspan>
      <tspan fill={RED}>{' E5'}</tspan>
    </text>
  );
}

export default function App() {
  return (
    <div style={{ position: 'absolute', left: 0, top: 0, width: 1295, height: 765, background: '#fff', overflow: 'hidden' }}>
      {panels.map((p, i) => (
        <PanelChart key={i} cfg={p} />
      ))}
      <svg width={1295} height={765} style={{ position: 'absolute', left: 0, top: 0, pointerEvents: 'none' }}>
        <rect x={4} y={7} width={1289} height={820} rx={14} ry={14} fill="none" stroke="#6e6e6e" strokeWidth={1.5} />
        <text x={166} y={45} fontFamily={FONT} fontSize={23} fill="#000">KZN2</text>
        <text x={728} y={45} fontFamily={FONT} fontSize={23} fill="#000">CUBS</text>
        <Legend x={649} />
        <Legend x={1210} />
        {rmsBlocks.map((b, bi) =>
          b.vals.map((v, i) => (
            <text key={`${bi}-${i}`} x={b.xs[i]} y={b.y} fontFamily={FONT} fontSize={25} fill={rmsColors[i]}>{v}</text>
          ))
        )}
        <text x={10} y={726} fontFamily={NARROW} fontSize={18} fill="#231f20" textLength={1266} lengthAdjust="spacingAndGlyphs">
          <tspan fontWeight="bold">Fig. 12</tspan>
          <tspan dx={8}>Epoch-wise positioning errors of E1/E5a/E5b/E5 for stations KZN2 (</tspan>
          <tspan fontStyle="italic">left</tspan>
          <tspan>) and CUBS (</tspan>
          <tspan fontStyle="italic">right</tspan>
          <tspan>) on DOY 200 of 2018. RMS values (unit: m) for</tspan>
        </text>
        <text x={10} y={751} fontFamily={NARROW} fontSize={18} fill="#231f20" textLength={445} lengthAdjust="spacingAndGlyphs">
          different signals are shown with different colors
        </text>
      </svg>
    </div>
  );
}
